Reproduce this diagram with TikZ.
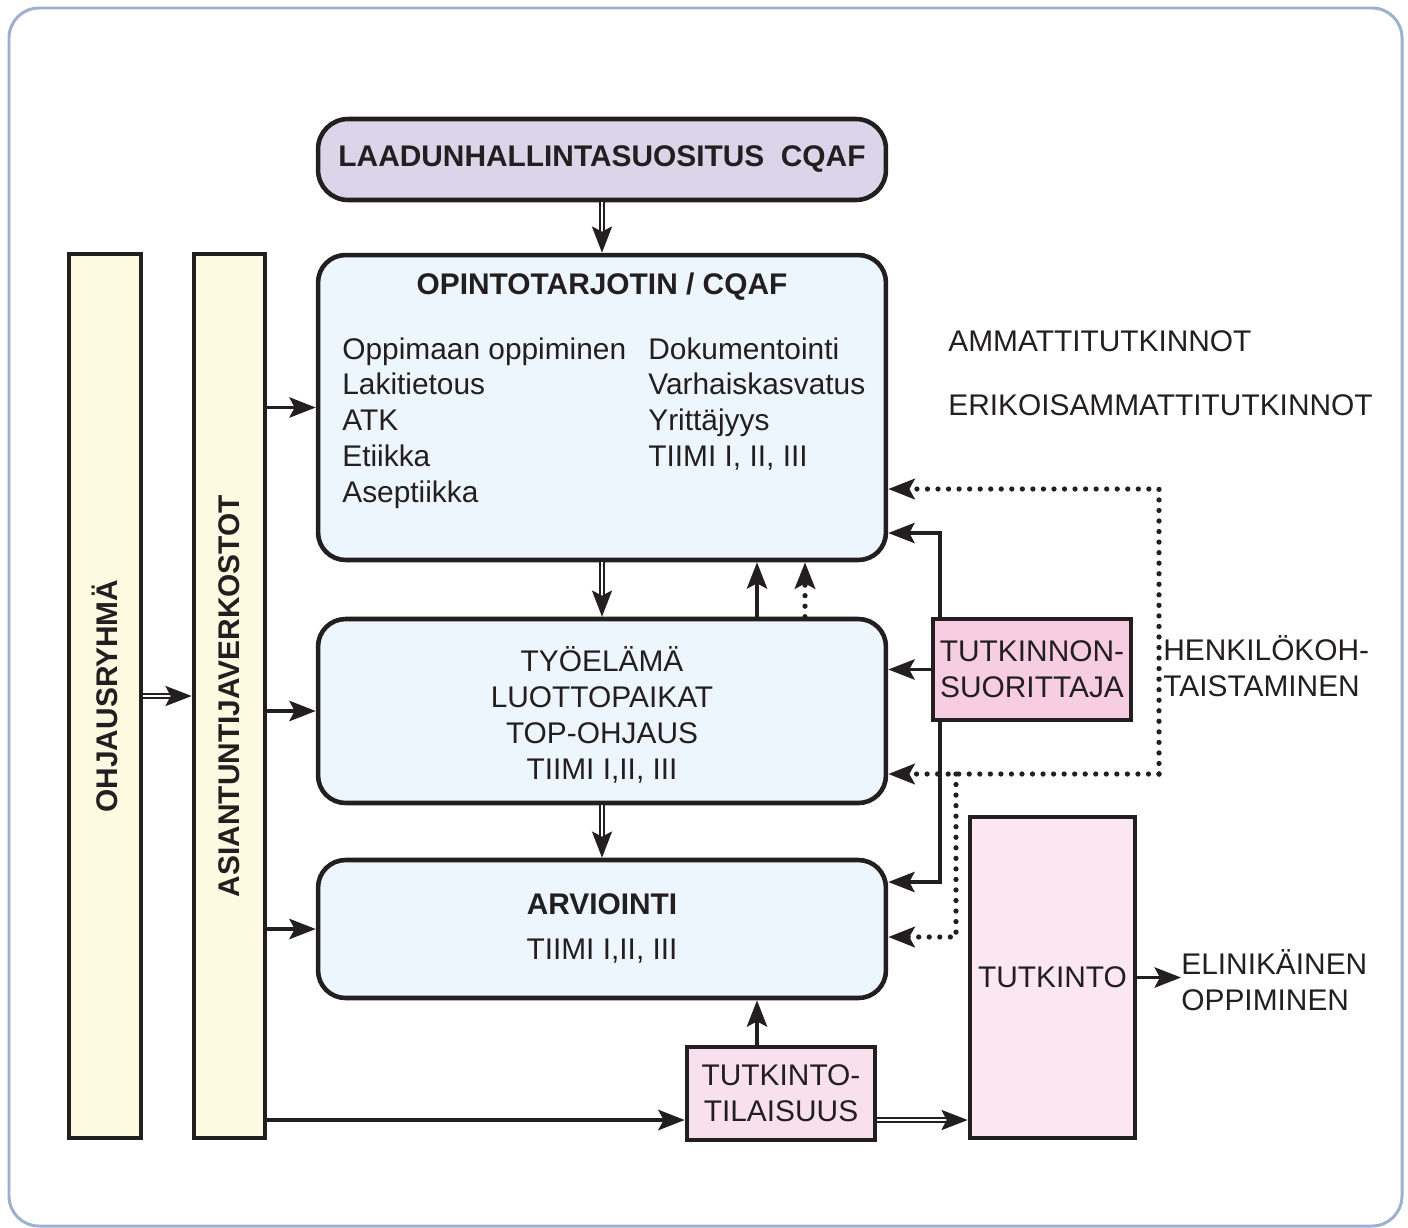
\documentclass[tikz,border=0pt]{standalone}
\usepackage{fontspec}
\setmainfont{Liberation Sans}
\usepackage{tikz}
\usetikzlibrary{arrows.meta,positioning,calc}
\definecolor{ink}{HTML}{231F20}
\definecolor{framec}{HTML}{9DB0CE}
\definecolor{lilac}{HTML}{DAD5E8}
\definecolor{paleblue}{HTML}{EEF6FD}
\definecolor{paleyellow}{HTML}{FEFAE2}
\definecolor{rosy}{HTML}{F7CDE2}
\definecolor{palerose}{HTML}{F8E0EC}
\definecolor{blush}{HTML}{FBE7F1}
\newcommand{\dfont}{\fontsize{17}{20.4}\selectfont}

\begin{document}
\begin{tikzpicture}[
  x=0.02cm, y=-0.02cm, inner sep=0pt,
  font=\dfont, text=ink,
  bold/.style={font=\dfont\bfseries},
  box/.style={draw=ink, line width=2.6pt, rounded corners=0.55cm, fill=paleblue,
    minimum width=11.36cm},
  bar/.style={draw=ink, line width=2.6pt, fill=paleyellow,
    minimum width=1.44cm, minimum height=17.68cm},
  pbox/.style={draw=ink, line width=2.6pt, align=center},
  arr/.style={-{Stealth[length=15pt, width=11.5pt, inset=3pt]}, draw=ink, line width=2.2pt},
  darr/.style={-{Stealth[length=15pt, width=11.5pt, inset=3pt]}, draw=ink,
    double=white, double distance=1.3pt, line width=0.9pt},
  dotarr/.style={-{Stealth[length=15pt, width=11.5pt, inset=3pt]}, draw=ink,
    line width=3pt, line cap=round, dash pattern=on 0pt off 6pt}
]
\useasboundingbox (0,0) rectangle (1408,1227);
\draw[framec, line width=1.7pt, rounded corners=0.6cm] (9,8) rectangle (1402,1226);

% main column
\node[box, fill=lilac, minimum height=1.62cm, rounded corners=0.6cm, bold]
  (laatu) at (602,159.5) {LAADUNHALLINTASUOSITUS\ \ CQAF};
\node[box, minimum height=6.10cm] (opin) at (602,407.5) {};
\node[box, minimum height=3.68cm] (tyo) at (602,711) {};
\node[box, minimum height=2.76cm] (arv) at (602,929) {};

\node[bold] (opint) at (602,287) {OPINTOTARJOTIN / CQAF};
\node[anchor=north west, align=left] (opinl) at (342,337)
  {Oppimaan oppiminen\\Lakitietous\\ATK\\Etiikka\\Aseptiikka};
\node[anchor=north west, align=left] (opinr) at (648,337)
  {Dokumentointi\\Varhaiskasvatus\\Yrittäjyys\\TIIMI I, II, III};
\node[align=center] (tyot) at (602,715)
  {TYÖELÄMÄ\\LUOTTOPAIKAT\\TOP-OHJAUS\\TIIMI I,II, III};
\node[bold] (arvt) at (602,904) {ARVIOINTI};
\node (arvs) at (602,951) {TIIMI I,II, III};

% side bars
\node[bar] (ohj) at (105,696) {};
\node[bar, minimum width=1.42cm] (asi) at (229.5,696) {};
\node[rotate=90, bold] (ohjt) at (ohj) {OHJAUSRYHMÄ};
\node[rotate=90, bold] (asit) at (asi) {ASIANTUNTIJAVERKOSTOT};

% pink boxes
\node[pbox, fill=rosy, minimum width=3.96cm, minimum height=2.02cm]
  (suor) at (1032,669.5) {TUTKINNON-\\SUORITTAJA};
\node[pbox, fill=palerose, minimum width=3.76cm, minimum height=1.86cm]
  (tilais) at (781,1093.5) {TUTKINTO-\\TILAISUUS};
\node[pbox, fill=blush, minimum width=3.3cm, minimum height=6.42cm]
  (tutk) at (1052.5,977.5) {TUTKINTO};

% free texts
\node[anchor=west] (amm) at (948,341) {AMMATTITUTKINNOT};
\node[below=1.28cm of amm.west, anchor=west] (erik) {ERIKOISAMMATTITUTKINNOT};
\node[anchor=west, align=left] (henk) at (1163,666) {HENKILÖKOH-\\TAISTAMINEN};
\node[anchor=west, align=left] (elin) at (1181,980) {ELINIKÄINEN\\OPPIMINEN};

% helper coordinates
\coordinate (upx) at (757,0);
\coordinate (dotx) at (805,0);
\coordinate (sx) at (940,0);
\coordinate (ya) at (0,533);
\coordinate (yb) at (0,882);
\coordinate (ylow) at (0,1120);
\coordinate (dtop) at (1159,489);
\coordinate (dmid) at (1159,774);
\coordinate (dsplit) at (956,774);
\coordinate (dbot) at (956,937);

% connectors
\draw[darr] (laatu) -- (opin);
\draw[darr] (opin) -- (tyo);
\draw[darr] (tyo) -- (arv);
\draw[arr] (tyo.north -| upx) -- (opin.south -| upx);
\draw[dotarr] (tyo.north -| dotx) -- (opin.south -| dotx);
\draw[arr] (tilais.north -| upx) -- (arv.south -| upx);

\draw[darr] (ohj) -- (asi);
\draw[arr] (asi.east |- opin.west) -- (opin.west);
\draw[arr] (asi.east |- tyo.west) -- (tyo.west);
\draw[arr] (asi.east |- arv.west) -- (arv.west);
\draw[arr] (asi.east |- ylow) -- (tilais.west |- ylow);
\draw[darr] (tilais.east |- ylow) -- (tutk.west |- ylow);
\draw[arr] (tutk.east) -- (elin.west |- tutk.east);

\draw[arr] (suor.north -| sx) |- (opin.east |- ya);
\draw[arr] (suor.west) -- (tyo.east |- suor.west);
\draw[arr] (suor.south -| sx) |- (arv.east |- yb);

\draw[dotarr] (dmid) |- (opin.east |- dtop);
\draw[dotarr] (dmid) -- (tyo.east |- dmid);
\draw[dotarr] (dsplit) |- (arv.east |- dbot);
\end{tikzpicture}
\end{document}
